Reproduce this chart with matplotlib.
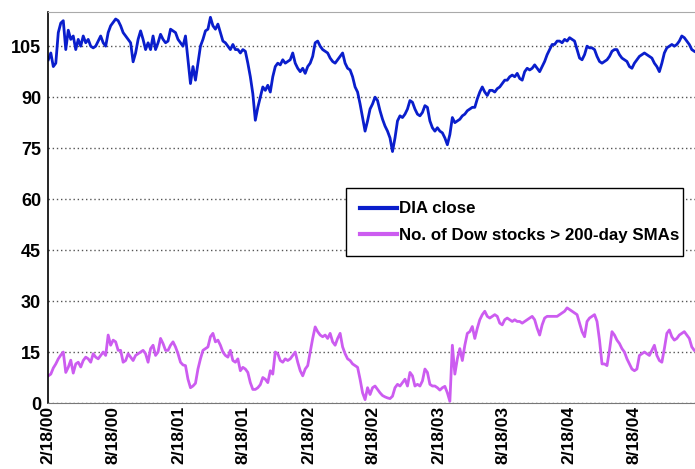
import pandas as pd
import numpy as np
import matplotlib
matplotlib.use('Agg')
import matplotlib.pyplot as plt
import matplotlib.dates as mdates

plt.rcParams['font.family'] = ['Liberation Sans', 'DejaVu Sans']

# Weekly closes (Fridays, 2/18/00 .. 2/4/05)
weeks = pd.date_range('2000-02-18', periods=260, freq='W-FRI')

dia_close = [
    101, 103, 99, 100, 109, 111.8, 112.5, 104, 109.7, 107,
    108, 104, 107, 105, 108, 106, 107, 105, 104.5, 105,
    106.5, 108, 106, 105, 109, 111, 112, 113, 112.5, 111,
    109, 108, 107, 106, 100.4, 103, 107, 109.5, 107, 104,
    106, 104, 108, 104, 106, 108.5, 107, 106, 106.5, 110,
    109.5, 109, 107, 106, 105, 108, 101, 94, 99, 95,
    100, 105, 107, 109.5, 110, 113.5, 111, 110, 111.5, 109,
    106.5, 106, 105, 104, 105.5, 104, 104, 103, 104, 103.5,
    100, 96, 91, 83.2, 87, 90, 93, 92, 93.5, 91.5,
    96, 99, 100, 99.5, 101, 100, 100.5, 101, 103, 100,
    98.5, 97.5, 98.5, 97, 99, 100, 102, 106, 106.5, 105,
    104, 103.5, 103, 101.5, 100.5, 100, 101, 102, 103, 100,
    98.5, 98, 96, 93, 91.5, 88, 84, 80, 83, 86.5,
    88, 90, 89, 86, 83.5, 81.5, 80, 78, 74, 78,
    83, 84.5, 84, 85, 86.5, 89, 88.5, 86.5, 85, 84.5,
    85.5, 87.5, 87, 83, 81, 80, 81, 80, 79.5, 78,
    76, 79, 84, 82.5, 83, 83.5, 84.5, 85, 86, 86.5,
    87, 87, 89.5, 91.5, 93, 91.5, 90.5, 92, 92, 91.5,
    92.5, 93, 94, 95, 95, 96, 96.5, 96, 97, 95.5,
    95, 97.5, 98.5, 98, 98.5, 99.5, 98.5, 97.5, 99, 100.5,
    102.5, 104, 105.5, 105.5, 106.5, 106.5, 106, 107, 106.5, 107.5,
    107, 106.5, 104, 101.5, 101, 102.5, 105, 104.5, 104.5, 104,
    102, 100.5, 100, 100.5, 101, 102, 103.5, 104, 104, 102.5,
    101.5, 101, 100.5, 99, 98.5, 100, 101, 102, 102.5, 103,
    102.5, 102, 101.5, 100, 99, 97.5, 100, 103, 104.5, 105,
    105.5, 105, 105.5, 106.5, 108, 107.5, 106.5, 105.5, 104, 103.5,
]

dow_above_sma = [
    8, 8.5, 10.3, 11.5, 13, 14.1, 15, 9, 10.5, 12.6,
    8.8, 11.5, 12, 10.6, 12.5, 13.5, 13, 12, 14.5, 13.5,
    13, 14, 15, 14, 20, 17, 18.5, 18, 15.5, 15.5,
    12, 12.5, 14.5, 13.5, 12.5, 14, 14.5, 15, 15.5, 14.5,
    12, 16, 17, 14, 15, 19, 17.5, 15.5, 15.5, 17,
    18, 16.5, 14.5, 12, 11.2, 11, 7, 4.5, 5, 5.8,
    10, 13, 15.5, 16, 16.5, 19.5, 20.5, 18, 18.5, 17,
    15, 14, 13.5, 15.5, 12.5, 12, 13, 9.5, 10.5, 10,
    9, 6, 4, 4, 4.5, 5.4, 7.5, 7, 6, 9.5,
    8.5, 15, 14.5, 12.5, 12, 13, 12.5, 13, 14, 15,
    12, 9.5, 8, 10, 11, 15, 19, 22.4, 21, 20,
    19.5, 20, 19, 20.5, 18, 17, 19, 20.5, 16.5, 14.5,
    13, 12.5, 11.5, 11, 10.5, 7, 3, 1, 4.5, 2.5,
    4.5, 5, 4, 3, 2.2, 1.8, 1.5, 1.3, 2, 4.5,
    5.5, 5, 6, 7, 5, 9, 8, 5, 5.5, 5,
    6.5, 10, 9, 5.5, 5, 5, 4.5, 3.8, 4.5, 4.9,
    3, 0.5, 17, 8.5, 13, 16, 12.5, 17, 20.5, 21,
    22.5, 19, 22, 24.5, 26, 27, 25.5, 25, 25.5, 26,
    25.5, 23.5, 23, 24.5, 25, 24.5, 24, 24.5, 24, 24,
    23.5, 24, 24.5, 25, 25.5, 24.5, 22, 20, 23, 25,
    25.5, 25.5, 25.5, 25.5, 25.5, 26, 26.5, 27, 28, 27.5,
    27, 26.5, 26, 23.5, 21, 19.5, 24, 25, 25.5, 26,
    24, 18.5, 11.5, 11.5, 11, 15.5, 21, 20, 18.5, 17.5,
    16, 15, 13, 11.5, 10, 9.5, 10, 14, 14.5, 15,
    14.5, 14, 15.5, 17, 14, 12.5, 12, 16, 20.5, 21.5,
    19.5, 18.5, 19, 20, 20.5, 21, 20, 19, 16.5, 15.5,
]

tick_dates = pd.to_datetime(['2000-02-18', '2000-08-18', '2001-02-18', '2001-08-18',
                             '2002-02-18', '2002-08-18', '2003-02-18', '2003-08-18',
                             '2004-02-18', '2004-08-18'])
y_ticks = [0, 15, 30, 45, 60, 75, 90, 105]

fig = plt.figure(figsize=(6.95, 4.69), dpi=100)
ax = fig.add_axes([0.069, 0.1407, 0.931, 0.8333])

ax.plot(weeks, dia_close, color='#0A1ECC', linewidth=2, label='DIA close')
ax.plot(weeks, dow_above_sma, color='#CC5CF0', linewidth=2,
        label='No. of Dow stocks > 200-day SMAs')

ax.set_ylim(0, 115)
ax.set_xlim(pd.Timestamp('2000-02-17'), pd.Timestamp('2005-02-06'))
ax.set_yticks(y_ticks)
ax.set_xticks(tick_dates)
ax.set_xticklabels([f'{d.month}/{d.day}/{d.strftime("%y")}' for d in tick_dates],
                   rotation=90)
ax.tick_params(axis='y', length=0, labelsize=13, pad=5)
ax.tick_params(axis='x', length=0, labelsize=12.5, pad=2)
for lab in ax.get_xticklabels() + ax.get_yticklabels():
    lab.set_fontweight('bold')

ax.grid(axis='y', color='#555555', linestyle=(0, (1, 2)), linewidth=1)
ax.set_axisbelow(True)
ax.spines['left'].set_color('black')
ax.spines['left'].set_linewidth(1.2)
ax.spines['bottom'].set_color('#777777')
ax.spines['top'].set_color('#AAAAAA')
ax.spines['right'].set_visible(False)

leg = ax.legend(loc='lower left', bbox_to_anchor=(0.4606, 0.376, 0.521, 0.179),
                mode='expand', fancybox=False, framealpha=1, edgecolor='black',
                prop={'weight': 'bold', 'size': 12.2}, handlelength=2.2,
                handletextpad=0.1, borderaxespad=0, labelspacing=0.65,
                borderpad=0.8)
leg.get_frame().set_linewidth(1)
for line in leg.get_lines():
    line.set_linewidth(3)

fig.savefig('out.png', dpi=100)
